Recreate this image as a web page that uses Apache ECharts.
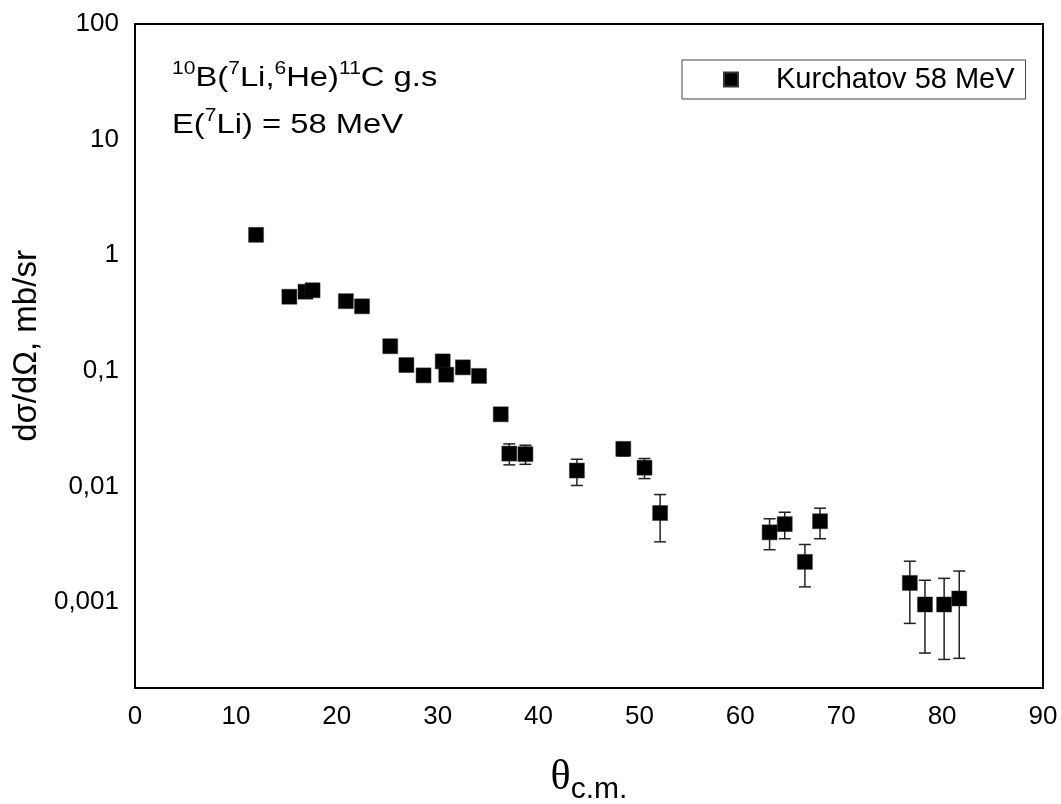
<!DOCTYPE html>
<html>
<head>
<meta charset="utf-8">
<script src="https://cdn.jsdelivr.net/npm/echarts@6/dist/echarts.min.js"></script>
<style>
  html, body { margin: 0; padding: 0; background: #fff; }
  #chart { width: 1061px; height: 804px; }
</style>
</head>
<body>
<div id="chart"></div>
<script>
// Centre-of-mass angle (deg)
const angles = [12.0, 15.3, 16.9, 17.6, 20.9, 22.5, 25.3, 26.9, 28.6, 30.5, 30.85, 32.5, 34.1,
  36.25, 37.1, 38.7, 43.8, 48.4, 50.5, 52.05, 62.9, 64.4, 66.4, 67.9, 76.8, 78.3, 80.2, 81.7];
// Differential cross section dσ/dΩ (mb/sr)
const crossSection = [1.50, 0.437, 0.483, 0.497, 0.40, 0.361, 0.163, 0.112, 0.0912, 0.1205, 0.0925, 0.107, 0.0902,
  0.042, 0.0192, 0.019, 0.0137, 0.0211, 0.0145, 0.00588, 0.0040, 0.00471, 0.00222, 0.00499, 0.00146, 0.00095, 0.00095, 0.00107];
// Error bar limits (null where the uncertainty is smaller than the marker)
const errLow = [null, null, null, null, null, null, null, null, null, null, null, null, null,
  null, 0.01534, 0.0155, 0.01017, 0.0183, 0.01167, 0.00331, 0.00283, 0.00352, 0.00135, 0.00352, 0.000652, 0.000361, 0.000318, 0.000325];
const errHigh = [null, null, null, null, null, null, null, null, null, null, null, null, null,
  null, 0.0233, 0.0227, 0.01715, 0.0238, 0.0174, 0.00849, 0.00524, 0.00597, 0.00314, 0.00647, 0.00225, 0.00154, 0.0016, 0.00185];

const seriesName = 'Kurchatov 58 MeV';
const FONT = '"Liberation Sans", Arial, sans-serif';

const points = angles.map((a, i) => [a, crossSection[i]]);
const bars = [];
angles.forEach((a, i) => {
  if (errLow[i] != null && errHigh[i] != null) bars.push([a, errLow[i], errHigh[i]]);
});

// Only decades get a label, written with a decimal comma
function decadeLabel(v) {
  const l = Math.log10(v);
  if (Math.abs(l - Math.round(l)) > 1e-6) return '';
  const p = Math.round(l);
  if (p >= 0) return String(Math.pow(10, p));
  return '0,' + '0'.repeat(-p - 1) + '1';
}

const annotationRich = {
  n: { fontFamily: FONT, fontSize: 28, color: '#000', lineHeight: 36 },
  sup: { fontFamily: FONT, fontSize: 18, color: '#000', verticalAlign: 'top', lineHeight: 36, padding: [0, 0, 13, 0] }
};

const chart = echarts.init(document.getElementById('chart'), null, { renderer: 'canvas' });

chart.setOption({
  backgroundColor: '#fff',
  animation: false,
  grid: {
    left: 135, top: 24, right: 18, bottom: 116,
    containLabel: false,
    outerBoundsMode: 'none',
    show: true, borderColor: '#000', borderWidth: 2, backgroundColor: 'transparent'
  },
  legend: {
    data: [{ name: seriesName, icon: 'rect' }],
    left: 682, top: 60,
    orient: 'horizontal',
    itemWidth: 14, itemHeight: 14,
    padding: [5, 11, 5, 41],
    borderColor: '#444', borderWidth: 1,
    textStyle: { fontFamily: FONT, fontSize: 29, color: '#000', padding: [0, 0, 0, 33] },
    selectedMode: false
  },
  xAxis: {
    type: 'value',
    min: 0, max: 90, interval: 10,
    axisLine: { show: true, lineStyle: { color: '#000', width: 2 } },
    axisTick: { show: false },
    splitLine: { show: false },
    axisLabel: { fontFamily: FONT, fontSize: 26, color: '#000', margin: 16 },
    name: '{th|θ}{sub|c.m.}',
    nameLocation: 'middle',
    nameGap: 63,
    nameTextStyle: {
      rich: {
        th: { fontFamily: '"Liberation Serif", "Times New Roman", serif', fontSize: 42, color: '#000' },
        sub: { fontFamily: FONT, fontSize: 30, color: '#000', padding: [24, 0, 0, 0] }
      }
    }
  },
  yAxis: {
    type: 'log',
    logBase: 10,
    min: 0.00018, max: 100,
    axisLine: { show: true, lineStyle: { color: '#000', width: 2 } },
    axisTick: { show: false },
    splitLine: { show: false },
    axisLabel: {
      fontFamily: FONT, fontSize: 26, color: '#000', margin: 16,
      showMinLabel: false,
      formatter: decadeLabel
    },
    name: 'dσ/dΩ, mb/sr',
    nameLocation: 'middle',
    nameGap: 82,
    nameRotate: 90,
    nameTextStyle: { fontFamily: FONT, fontSize: 33, color: '#000', padding: [0, 0, 0, 20] }
  },
  graphic: [
    {
      type: 'text', x: 172, y: 60, scaleX: 1.17, z: 10,
      style: {
        text: '{sup|10}{n|B(}{sup|7}{n|Li,}{sup|6}{n|He)}{sup|11}{n|C g.s}',
        rich: annotationRich
      }
    },
    {
      type: 'text', x: 172, y: 107, scaleX: 1.17, z: 10,
      style: {
        text: '{n|E(}{sup|7}{n|Li) = 58 MeV}',
        rich: annotationRich
      }
    }
  ],
  series: [
    {
      name: 'errors',
      type: 'custom',
      z: 1,
      silent: true,
      data: bars,
      renderItem: function (params, api) {
        const x = api.value(0);
        const lo = api.coord([x, api.value(1)]);
        const hi = api.coord([x, api.value(2)]);
        const half = 6;
        const style = { stroke: '#222', lineWidth: 1.5, fill: null };
        return {
          type: 'group',
          children: [
            { type: 'line', shape: { x1: lo[0], y1: lo[1], x2: hi[0], y2: hi[1] }, style: style },
            { type: 'line', shape: { x1: lo[0] - half, y1: lo[1], x2: lo[0] + half, y2: lo[1] }, style: style },
            { type: 'line', shape: { x1: hi[0] - half, y1: hi[1], x2: hi[0] + half, y2: hi[1] }, style: style }
          ]
        };
      }
    },
    {
      name: seriesName,
      type: 'scatter',
      z: 2,
      symbol: 'rect',
      symbolSize: 15,
      itemStyle: { color: '#000', borderColor: '#333', borderWidth: 0.5, opacity: 1 },
      data: points
    }
  ]
});
</script>
</body>
</html>
